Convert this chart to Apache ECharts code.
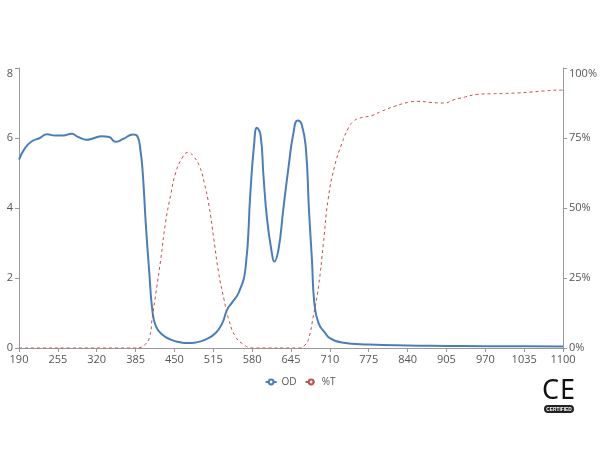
<!DOCTYPE html>
<html>
<head>
<meta charset="utf-8">
<script src="https://cdn.jsdelivr.net/npm/echarts@6/dist/echarts.min.js"></script>
<style>
html,body{margin:0;padding:0;background:#fff;}
#main{width:600px;height:450px;}
</style>
</head>
<body>
<div id="main"></div>
<script>
// Wavelength ticks (nm)
var xTicks = [190,255,320,385,450,515,580,645,710,775,840,905,970,1035,1100];

// OD series
var odWl = [190,200,211,225,237,250,264,278,289,303,316,328,341,351,364,381,388,393,397,402,408,413,419,430,444,458,472,486,502,519,530,538,546,558,569,577,583,588,594,599,605,613,617,624,632,641,649,656,663,670,675,680,684,691,702,710,730,775,840,905,970,1035,1100];
var odVal = [5.38,5.71,5.90,6.0,6.11,6.07,6.07,6.12,6.03,5.95,6.0,6.05,6.03,5.89,5.97,6.10,6.05,5.67,5.0,3.57,2.14,1.09,0.62,0.38,0.24,0.17,0.14,0.16,0.24,0.43,0.71,1.09,1.29,1.6,2.3,4.43,5.76,6.29,6.09,4.9,3.67,2.71,2.47,2.81,3.95,5.19,6.14,6.5,6.38,5.67,3.95,2.52,1.29,0.71,0.43,0.28,0.16,0.1,0.07,0.06,0.05,0.05,0.04];

// %T series
var tWl = [190,385,395,400,408,413,419,427,435,444,452,463,473,482,492,500,508,516,524,533,541,552,566,580,660,668,674,682,691,699,707,718,730,741,749,760,780,796,818,840,857,879,901,918,935,957,979,1001,1024,1046,1068,1096,1100];
var tVal = [0,0,0.3,1,3.6,11,19.6,31.5,44.6,55,62.5,67.9,69.9,68.4,64.9,58.9,50.6,38.7,26.8,17.3,10.1,4.1,1.2,0,0,1,3,11,22,37,53,65,73,78.6,80.9,82.1,83,84.5,86.3,87.7,88.1,87.7,87.5,88.7,89.6,90.6,90.8,90.9,91.1,91.4,91.8,92.1,92.1];

function pairs(xs, ys){ return xs.map(function(x,i){ return [x, ys[i]]; }); }

var axisColor = '#999';
var labelColor = '#555';
var chart = echarts.init(document.getElementById('main'));
chart.setOption({
  animation: false,
  textStyle: {fontFamily: 'Open Sans, sans-serif'},
  grid: {left: 19, right: 34, top: 68, bottom: 102, containLabel: false},
  xAxis: {
    type: 'value', min: 190, max: 1100,
    axisLine: {show: true, lineStyle: {color: axisColor}},
    axisTick: {show: true, length: 4, lineStyle: {color: axisColor}, customValues: xTicks},
    axisLabel: {color: labelColor, fontSize: 11, margin: 6, customValues: xTicks,
      formatter: function(v){ return String(v); }},
    splitLine: {show: false}
  },
  yAxis: [{
    type: 'value', min: 0, max: 8, interval: 2,
    axisLine: {show: true, lineStyle: {color: axisColor}},
    axisTick: {show: true, length: 4, lineStyle: {color: axisColor}},
    axisLabel: {color: labelColor, fontSize: 11, margin: 6, verticalAlignMaxLabel: 'top'},
    splitLine: {show: false}
  },{
    type: 'value', min: 0, max: 100, interval: 25, position: 'right',
    axisLine: {show: true, lineStyle: {color: axisColor}},
    axisTick: {show: true, length: 4, lineStyle: {color: axisColor}},
    axisLabel: {color: labelColor, fontSize: 11, margin: 6, formatter: '{value}%', verticalAlignMaxLabel: 'top'},
    splitLine: {show: false}
  }],
  legend: {
    top: 372, left: 'center', itemGap: 8, itemWidth: 11, itemHeight: 6,
    textStyle: {color: '#555', fontSize: 10},
    data: ['OD', '%T']
  },
  series: [{
    name: 'OD', type: 'line', yAxisIndex: 0, smooth: 0.5,
    symbol: 'emptyCircle', symbolSize: 4, showSymbol: false,
    itemStyle: {color: '#4a7ebb'},
    lineStyle: {color: '#4a7ebb', width: 2},
    data: pairs(odWl, odVal)
  },{
    name: '%T', type: 'line', yAxisIndex: 1, smooth: 0.5,
    symbol: 'emptyCircle', symbolSize: 4, showSymbol: false,
    itemStyle: {color: '#c0504d'},
    lineStyle: {color: '#c0504d', width: 1, type: [3, 3]},
    data: pairs(tWl, tVal)
  }],
  graphic: [
    {type: 'text', left: 542, top: 378, style: {text: 'C', fontSize: 27, fontFamily: 'Noto Sans', fill: '#111'}},
    {type: 'text', left: 560, top: 378, style: {text: 'E', fontSize: 27, fontFamily: 'Noto Sans', fill: '#111'}},
    {type: 'rect', left: 544, top: 405, shape: {width: 30, height: 8, r: 4}, style: {fill: '#222'}},
    {type: 'text', x: 559, y: 409.5, scaleX: 0.8, style: {text: 'CERTIFIED', fontSize: 6, fontWeight: 'bold', fontFamily: 'Liberation Sans', fill: '#fff', align: 'center', verticalAlign: 'middle'}}
  ]
});
</script>
</body>
</html>
